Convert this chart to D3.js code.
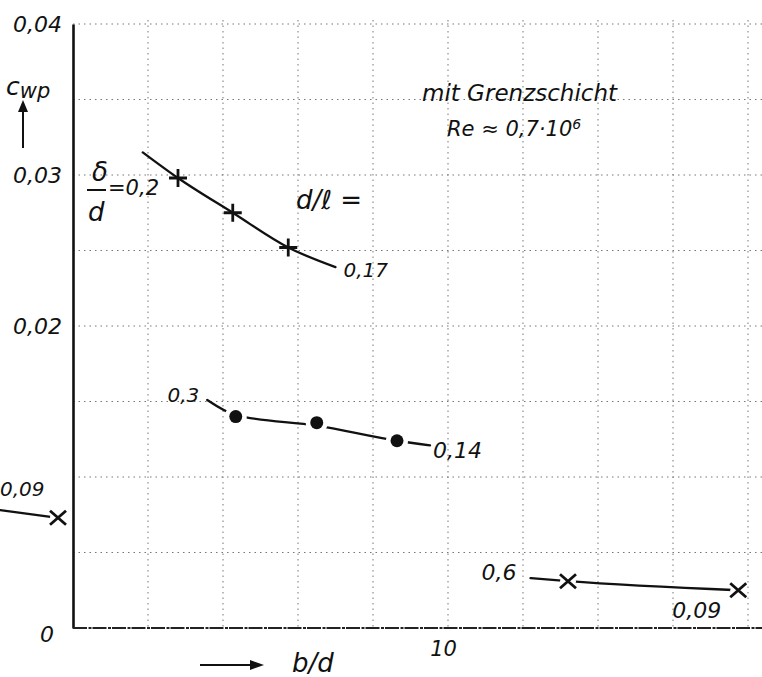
<!DOCTYPE html>
<html>
<head>
<meta charset="utf-8">
<script src="https://cdn.jsdelivr.net/npm/d3@7"></script>
<style>
  body { margin: 0; background: #fff; }
  svg text { font-family: "DejaVu Sans", sans-serif; font-style: italic; fill: #111; }
  .grid line { stroke: #777; stroke-width: 1; stroke-dasharray: 1.5,4; }
  .curve { fill: none; stroke: #111; stroke-width: 2.3; stroke-linecap: round; }
</style>
</head>
<body>
<div id="chart"></div>
<script>
// values (b/d on x, c_wp on y)
var yTickValues = [0, 0.02, 0.03, 0.04];
var yTickLabels = ["0", "0,02", "0,03", "0,04"];
var xTickValues = [10];
var xTickLabels = ["10"];
var xGrid = [6, 7, 8, 9, 10, 11, 12, 13, 14];
var yGrid = [0.005, 0.01, 0.015, 0.02, 0.025, 0.03, 0.035, 0.04];

// delta/d = 0.2 , d/l = 0.17  (+)
var plusX = [6.4, 7.13, 7.87];
var plusY = [0.0298, 0.0275, 0.0252];
var plusCurveX = [5.93, 6.4, 7.13, 7.87, 8.5];
var plusCurveY = [0.0315, 0.0298, 0.0275, 0.0252, 0.0239];

// delta/d = 0.3 , d/l = 0.14  (dots)
var dotX = [7.17, 8.25, 9.32];
var dotY = [0.0140, 0.0136, 0.0124];
var dotCurveX = [6.79, 7.17, 8.25, 9.32, 9.76];
var dotCurveY = [0.0151, 0.0141, 0.0134, 0.0124, 0.0121];

// delta/d = 0.6 , d/l = 0.09  (x)
var crossX = [11.6, 13.87];
var crossY = [0.0031, 0.0025];
var crossCurveX = [11.1, 11.6, 13.87];
var crossCurveY = [0.0033, 0.0031, 0.0025];

// d/l = 0.09 at the left edge
var leftCrossX = [4.8];
var leftCrossY = [0.0073];
var leftCurveX = [4.03, 4.8];
var leftCurveY = [0.0078, 0.0073];

var width = 762, height = 677;

var svg = d3.select("#chart").append("svg")
    .attr("width", width)
    .attr("height", height);

var x = d3.scaleLinear().domain([5, 10]).range([73, 448]);
var y = d3.scaleLinear().domain([0, 0.04]).range([628, 24]);

// grid
var grid = svg.append("g").attr("class", "grid");
grid.selectAll(".vg")
    .data(xGrid)
    .enter().append("line")
    .attr("x1", d => x(d)).attr("x2", d => x(d))
    .attr("y1", y(0.04) - 4).attr("y2", y(0));
grid.selectAll(".hg")
    .data(yGrid)
    .enter().append("line")
    .attr("x1", x(5)).attr("x2", width)
    .attr("y1", d => y(d)).attr("y2", d => y(d));

// axes
var yAxis = d3.axisLeft(y)
    .tickValues(yTickValues)
    .tickSize(0)
    .tickPadding(11)
    .tickFormat((d, i) => yTickLabels[i]);
var gy = svg.append("g")
    .attr("transform", "translate(" + x(5) + ",0)")
    .call(yAxis);
gy.select(".domain").attr("stroke", "#111").attr("stroke-width", 2.6);
gy.selectAll("text").style("font-size", "22px").attr("fill", "#111");
gy.selectAll(".tick").filter(d => d === 0).select("text").attr("dy", "0.6em").attr("dx", "-8");

var xAxis = d3.axisBottom(x)
    .tickValues(xTickValues)
    .tickSize(0)
    .tickPadding(13)
    .tickFormat((d, i) => xTickLabels[i]);
var gx = svg.append("g")
    .attr("transform", "translate(0," + y(0) + ")")
    .call(xAxis);
gx.select(".domain").remove();
gx.append("line")
    .attr("x1", x(5)).attr("x2", width)
    .attr("stroke", "#222").attr("stroke-width", 1.8)
    .attr("stroke-dasharray", "14,1.5,3,1");
gx.selectAll("text").style("font-size", "21px").attr("fill", "#111").attr("dx", "-5");

// curves
var line = d3.line()
    .x(d => x(d[0]))
    .y(d => y(d[1]))
    .curve(d3.curveMonotoneX);

function drawCurve(xs, ys) {
    svg.append("path")
        .datum(d3.zip(xs, ys))
        .attr("class", "curve")
        .attr("d", line);
}
drawCurve(plusCurveX, plusCurveY);
drawCurve(dotCurveX, dotCurveY);
drawCurve(crossCurveX, crossCurveY);
drawCurve(leftCurveX, leftCurveY);

// markers
var plusPts = d3.zip(plusX, plusY);
svg.selectAll(".plus")
    .data(plusPts)
    .enter().append("path")
    .attr("d", d => "M" + (x(d[0]) - 9) + "," + y(d[1]) + "h18M" + x(d[0]) + "," + (y(d[1]) - 9) + "v18")
    .attr("stroke", "#111").attr("stroke-width", 2.8);

var dotPts = d3.zip(dotX, dotY);
svg.selectAll(".dothalo")
    .data(dotPts)
    .enter().append("circle")
    .attr("cx", d => x(d[0])).attr("cy", d => y(d[1]))
    .attr("r", 11).attr("fill", "#fff");
svg.selectAll(".dot")
    .data(dotPts)
    .enter().append("circle")
    .attr("cx", d => x(d[0])).attr("cy", d => y(d[1]))
    .attr("r", 6.5).attr("fill", "#111");

var crossPts = d3.zip(crossX.concat(leftCrossX), crossY.concat(leftCrossY));
svg.selectAll(".crosshalo")
    .data(crossPts)
    .enter().append("circle")
    .attr("cx", d => x(d[0])).attr("cy", d => y(d[1]))
    .attr("r", 8).attr("fill", "#fff");
svg.selectAll(".cross")
    .data(crossPts)
    .enter().append("path")
    .attr("d", d => {
        var cx = x(d[0]), cy = y(d[1]);
        return "M" + (cx - 8) + "," + (cy - 7) + "L" + (cx + 8) + "," + (cy + 7) +
               "M" + (cx - 8) + "," + (cy + 7) + "L" + (cx + 8) + "," + (cy - 7);
    })
    .attr("stroke", "#111").attr("stroke-width", 2.8);

// labels on the curves
function label(txt, px, py, size, anchor) {
    return svg.append("text")
        .attr("x", px).attr("y", py)
        .attr("dy", "0.35em")
        .attr("text-anchor", anchor || "start")
        .style("font-size", (size || 20) + "px")
        .text(txt);
}
label("0,17", x(8.5) + 8, y(0.0237), 20);
label("0,3", x(6.79) - 8, y(0.0154), 20, "end");
label("0,14", x(9.76) + 3, y(0.0118), 22);
label("0,6", x(11.1) - 14, y(0.0037), 22, "end");
label("0,09", x(13.87) - 66, y(0.0012), 22);
label("0,09", 0, y(0.0092), 20);

// delta/d = 0,2
label("\u03b4", 92, 172, 26);
svg.append("line").attr("x1", 87).attr("x2", 106).attr("y1", 190).attr("y2", 190)
    .attr("stroke", "#111").attr("stroke-width", 2);
label("d", 88, 212, 26);
label("=0,2", 108, 188, 21);

label("d/\u2113 =", 296, 200, 26);

// title block
label("mit Grenzschicht", 422, 93, 23);
var re = label("Re \u2248 0,7\u00b710", 447, 129, 21);
re.append("tspan").attr("dy", "-0.55em").style("font-size", "14px").text("6");

// y axis title with arrow
var cw = label("c", 6, 86, 25);
cw.append("tspan").attr("dy", "0.15em").style("font-size", "21px").text("wp");
svg.append("line").attr("x1", 23).attr("x2", 23).attr("y1", 148).attr("y2", 108)
    .attr("stroke", "#111").attr("stroke-width", 2);
svg.append("path").attr("d", "M18,112L23,100L28,112Z").attr("fill", "#111");

// x axis title with arrow
svg.append("line").attr("x1", 200).attr("x2", 256).attr("y1", 665).attr("y2", 665)
    .attr("stroke", "#111").attr("stroke-width", 2);
svg.append("path").attr("d", "M250,660L264,665L250,670Z").attr("fill", "#111");
label("b/d", 292, 663, 26);
</script>
</body>
</html>
